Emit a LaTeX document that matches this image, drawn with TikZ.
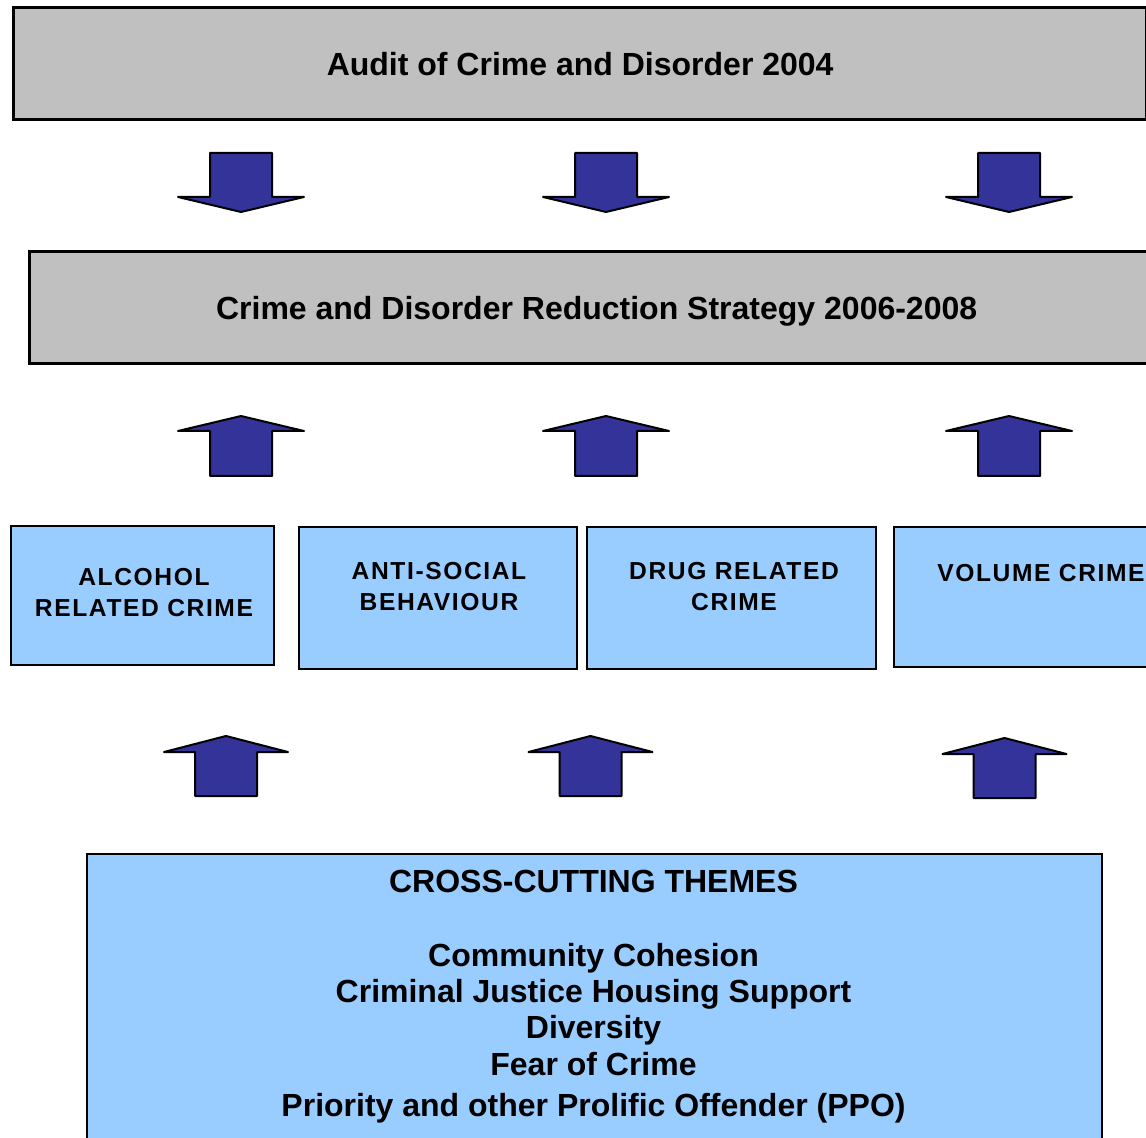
\documentclass[tikz,border=0pt]{standalone}
\usepackage{fontspec}
\setmainfont{Liberation Sans}
\newfontfamily\capsfont[LetterSpace=6.5]{Liberation Sans}
\usetikzlibrary{positioning}

\definecolor{boxgray}{HTML}{C0C0C0}
\definecolor{arrowblue}{HTML}{333399}
\definecolor{paleblue}{HTML}{99CCFF}

\tikzset{
    headbox/.style={draw=black,line width=1.65pt,fill=boxgray,anchor=north west,inner sep=0pt,
        font=\fontsize{16}{18}\selectfont\bfseries,text depth=0pt},
    topicbox/.style={draw=black,line width=1pt,fill=paleblue,anchor=north west,inner sep=0pt},
    topictext/.style={font=\capsfont\fontsize{12.3}{15.5}\selectfont\bfseries,align=center,inner sep=0pt,anchor=north},
    themetext/.style={font=\fontsize{16}{18}\selectfont\bfseries,inner sep=0pt,anchor=base},
    blockarrow/.style={draw=black,line width=1pt,fill=arrowblue,line join=round},
}

\begin{document}
\begin{tikzpicture}[x=0.5pt,y=-0.5pt]
        \useasboundingbox (0,0) rectangle (1146,1138);
        \clip (0,0) rectangle (1146,1138);

        % Grey heading boxes
        \node[headbox,minimum width=566.5pt,minimum height=56pt] (audit) at (12,6) {Audit of Crime and Disorder 2004};
        \node[headbox,minimum width=567pt,minimum height=56pt] (strategy) at (28,250) {Crime and Disorder Reduction Strategy 2006-2008};

        % Arrows down from the audit
        \foreach \cx in {241,606,1009}
            \draw[blockarrow] (\cx-31,153) -- (\cx+31,153) -- (\cx+31,197) -- (\cx+63,197)
                -- (\cx,212) -- (\cx-63,197) -- (\cx-31,197) -- cycle;

        % Arrows up into the strategy
        \foreach \cx in {241,606,1009}
            \draw[blockarrow] (\cx-31,476) -- (\cx+31,476) -- (\cx+31,431) -- (\cx+63,431)
                -- (\cx,416) -- (\cx-63,431) -- (\cx-31,431) -- cycle;

        % Priority boxes
        \node[topicbox,minimum width=131.25pt,minimum height=69.25pt] (alcohol) at (10,525.5) {};
        \node[topicbox,minimum width=139pt,minimum height=71pt] (antisocial) at (298,526) {};
        \node[topicbox,minimum width=144.5pt,minimum height=71pt] (drug) at (586,526) {};
        \node[topicbox,minimum width=133.75pt,minimum height=70pt] (volume) at (892.5,526) {};

        \node[topictext] (alcoholtext) at (144,567.5) {ALCOHOL\\RELATED CRIME};
        \node[topictext] (antisocialtext) at (439,561.5) {ANTI-SOCIAL\\BEHAVIOUR};
        \node[topictext] (drugtext) at (734,561.5) {DRUG RELATED\\CRIME};
        \node[topictext] (volumetext) at (1041,563.5) {VOLUME CRIME};

        % Arrows up from the themes
        \foreach \cx/\dy in {226/0,590.5/0,1004.5/2}
            \draw[blockarrow] (\cx-31,796+\dy) -- (\cx+31,796+\dy) -- (\cx+31,752+\dy) -- (\cx+62,752+\dy)
                -- (\cx,736+\dy) -- (\cx-62,752+\dy) -- (\cx-31,752+\dy) -- cycle;

        % Cross-cutting themes
        \node[topicbox,minimum width=507.5pt,minimum height=160pt] (themes) at (86,852.5) {};
        \node[themetext] (themestitle) at (593.5,892) {CROSS-CUTTING THEMES};
        \foreach \ty/\txt [count=\i] in {966/Community Cohesion,1002/Criminal Justice Housing Support,
                1038/Diversity,1075/Fear of Crime,1116/Priority and other Prolific Offender (PPO)}
            \node[themetext] (theme\i) at (593.5,\ty) {\txt};

\end{tikzpicture}
\end{document}
